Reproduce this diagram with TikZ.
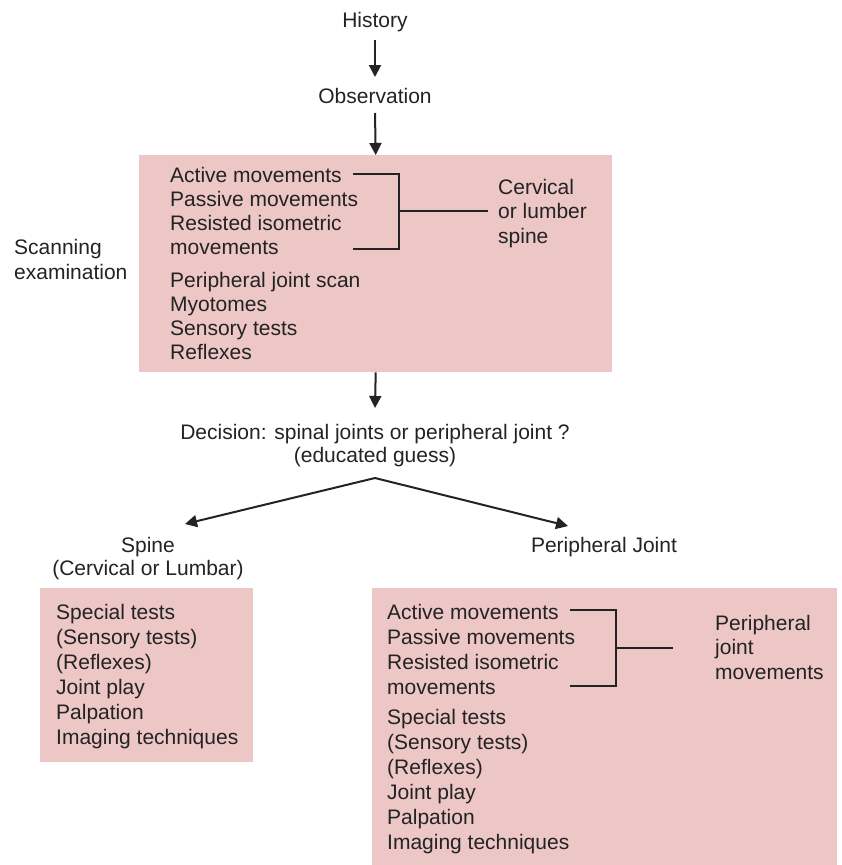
\documentclass[tikz,border=0pt]{standalone}
\usepackage{fontspec}
\setmainfont{Liberation Sans}
\usetikzlibrary{arrows.meta}
\definecolor{boxpink}{RGB}{237,198,198}
\definecolor{ink}{RGB}{35,35,35}
\begin{document}
\begin{tikzpicture}[x=1pt,y=-1pt,
  txt/.style={font=\fontsize{21}{25}\selectfont, text=ink, inner sep=0pt},
  lt/.style={txt, anchor=base west},
  ct/.style={txt, anchor=base},
  pinkbox/.style={fill=boxpink, draw=none},
  arr/.style={draw=ink, line width=2pt, -{Triangle[length=12pt,width=12pt]}},
  brk/.style={draw=ink, line width=2pt}]
\useasboundingbox (0,0) rectangle (842,865);
\fill[white] (0,0) rectangle (842,865);

% boxes
\node[pinkbox, minimum width=473pt, minimum height=217pt, anchor=north west, inner sep=0pt] (topbox) at (139,155) {};
\node[pinkbox, minimum width=213pt, minimum height=174pt, anchor=north west, inner sep=0pt] (leftbox) at (40,588) {};
\node[pinkbox, minimum width=465pt, minimum height=277pt, anchor=north west, inner sep=0pt] (rightbox) at (372,588) {};

% top flow
\node[ct] (hist) at (375,27) {History};
\node[ct] (obs) at (375,103) {Observation};
\coordinate (h1) at (375,40);
\coordinate (h2) at (375,77);
\coordinate (o1) at (375,113);
\draw[arr] (h1) -- (h2);
\draw[arr] (o1) -- (topbox.north);

% top box contents
\foreach \t [count=\i] in {Active movements, Passive movements, Resisted isometric, movements}
  \node[lt] (ta\i) at (170,{182+24.3*(\i-1)}) {\t};
\foreach \t [count=\i] in {Peripheral joint scan, Myotomes, Sensory tests, Reflexes}
  \node[lt] (tb\i) at (170,{287+24.3*(\i-1)}) {\t};
\foreach \t [count=\i] in {Cervical, or lumber, spine}
  \node[lt] (cv\i) at (498,{194+24.5*(\i-1)}) {\t};
\node[lt] (scan1) at (14,254) {Scanning};
\node[lt] (scan2) at (14,279) {examination};

\coordinate (b1s) at (353,174);
\coordinate (b1t) at (399,174);
\coordinate (b1b) at (399,249);
\coordinate (b1e) at (353,249);
\coordinate (b1m) at (399,211);
\coordinate (b1r) at (488,211);
\draw[brk] (b1s) -- (b1t) -- (b1b) -- (b1e);
\draw[brk] (b1m) -- (b1r);

% decision
\coordinate (d0) at (375,408);
\draw[arr] (topbox.south) -- (d0);
\node[ct] (dec) at (375,439) {Decision: spinal joints or peripheral joint ?};
\node[ct] (guess) at (375,462) {(educated guess)};
\coordinate (apex) at (375,478);
\coordinate (tl) at (185,524);
\coordinate (tr) at (568,526);
\draw[arr] (apex) -- (tl);
\draw[arr] (apex) -- (tr);

\node[ct] (spine) at (148,552) {Spine};
\node[ct] (spine2) at (148,575) {(Cervical or Lumbar)};
\node[ct] (periph) at (604,552) {Peripheral Joint};

% left box contents
\foreach \t [count=\i] in {Special tests, (Sensory tests), (Reflexes), Joint play, Palpation, Imaging techniques}
  \node[lt] (la\i) at (56,{619+25*(\i-1)}) {\t};

% right box contents
\foreach \t [count=\i] in {Active movements, Passive movements, Resisted isometric, movements}
  \node[lt] (ra\i) at (387,{619+25*(\i-1)}) {\t};
\foreach \t [count=\i] in {Special tests, (Sensory tests), (Reflexes), Joint play, Palpation, Imaging techniques}
  \node[lt] (rb\i) at (387,{724+25*(\i-1)}) {\t};
\foreach \t [count=\i] in {Peripheral, joint, movements}
  \node[lt] (pj\i) at (715,{630+24.5*(\i-1)}) {\t};

\coordinate (b2s) at (570,610);
\coordinate (b2t) at (616,610);
\coordinate (b2b) at (616,686);
\coordinate (b2e) at (570,686);
\coordinate (b2m) at (616,648);
\coordinate (b2r) at (673,648);
\draw[brk] (b2s) -- (b2t) -- (b2b) -- (b2e);
\draw[brk] (b2m) -- (b2r);
\end{tikzpicture}
\end{document}
